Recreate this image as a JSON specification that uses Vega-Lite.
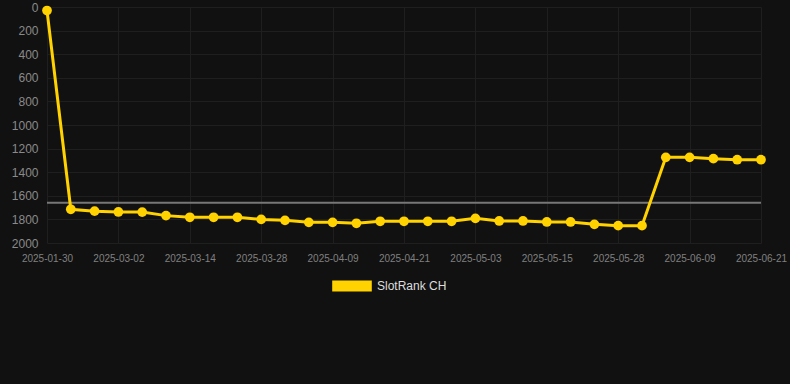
{
  "$schema": "https://vega.github.io/schema/vega-lite/v6.json",
  "width": 738,
  "height": 236,
  "autosize": "none",
  "padding": {"left": 47, "top": 7, "right": 5, "bottom": 141},
  "background": "#111111",
  "config": {
    "view": {"stroke": null},
    "axis": {"gridColor": "#1f1f1f", "domain": false, "ticks": false, "labelFont": "Liberation Sans", "labelOverlap": false},
    "axisY": {"labelOverlap": false, "labelColor": "#8a8a8a", "labelFontSize": 12, "labelPadding": 9},
    "legend": {"labelFont": "Liberation Sans"}
  },
  "data": {
    "values": [
      {"date": "2025-01-30", "rank": 30},
      {"date": "2025-02-19", "rank": 1714},
      {"date": "2025-02-25", "rank": 1730},
      {"date": "2025-03-02", "rank": 1737},
      {"date": "2025-03-06", "rank": 1738},
      {"date": "2025-03-10", "rank": 1768},
      {"date": "2025-03-14", "rank": 1782},
      {"date": "2025-03-19", "rank": 1782},
      {"date": "2025-03-23", "rank": 1782},
      {"date": "2025-03-28", "rank": 1800},
      {"date": "2025-04-01", "rank": 1808},
      {"date": "2025-04-05", "rank": 1825},
      {"date": "2025-04-09", "rank": 1825},
      {"date": "2025-04-13", "rank": 1833},
      {"date": "2025-04-17", "rank": 1816},
      {"date": "2025-04-21", "rank": 1816},
      {"date": "2025-04-25", "rank": 1816},
      {"date": "2025-04-29", "rank": 1816},
      {"date": "2025-05-03", "rank": 1791},
      {"date": "2025-05-07", "rank": 1813},
      {"date": "2025-05-11", "rank": 1813},
      {"date": "2025-05-15", "rank": 1822},
      {"date": "2025-05-19", "rank": 1822},
      {"date": "2025-05-24", "rank": 1842},
      {"date": "2025-05-28", "rank": 1853},
      {"date": "2025-06-01", "rank": 1853},
      {"date": "2025-06-05", "rank": 1274},
      {"date": "2025-06-09", "rank": 1274},
      {"date": "2025-06-13", "rank": 1285},
      {"date": "2025-06-17", "rank": 1294},
      {"date": "2025-06-21", "rank": 1294}
    ]
  },
  "encoding": {
    "x": {
      "field": "date",
      "type": "ordinal",
      "sort": null,
      "scale": {"type": "point", "range": [0, 714], "padding": 0},
      "axis": {
        "title": null,
        "labelAngle": 0,
        "labelColor": "#808080",
        "labelFontSize": 10,
        "labelPadding": 10,
        "labelOverlap": false,
        "values": ["2025-01-30", "2025-03-02", "2025-03-14", "2025-03-28", "2025-04-09", "2025-04-21", "2025-05-03", "2025-05-15", "2025-05-28", "2025-06-09", "2025-06-21"],
        "grid": true
      }
    }
  },
  "layer": [
    {
      "transform": [{"joinaggregate": [{"op": "mean", "field": "rank", "as": "avg"}]}],
      "mark": {"type": "line", "color": "#777777", "strokeWidth": 2},
      "encoding": {
        "y": {
          "field": "avg",
          "type": "quantitative",
          "scale": {"domain": [0, 2000], "reverse": true, "nice": false},
          "axis": {"title": null, "values": [0, 200, 400, 600, 800, 1000, 1200, 1400, 1600, 1800, 2000], "tickCount": 11, "format": "d", "labelOverlap": false, "grid": true}
        }
      }
    },
    {
      "mark": {"type": "line", "strokeWidth": 3, "color": "#ffd200"},
      "encoding": {
        "y": {
          "field": "rank",
          "type": "quantitative",
          "axis": {"title": null, "values": [0, 200, 400, 600, 800, 1000, 1200, 1400, 1600, 1800, 2000], "tickCount": 11, "format": "d", "labelOverlap": false, "grid": true}
        }
      }
    },
    {
      "mark": {"type": "point", "filled": true, "size": 95, "opacity": 1},
      "encoding": {
        "y": {
          "field": "rank",
          "type": "quantitative",
          "axis": {"title": null, "values": [0, 200, 400, 600, 800, 1000, 1200, 1400, 1600, 1800, 2000], "tickCount": 11, "format": "d", "labelOverlap": false, "grid": true}
        },
        "color": {
          "datum": "SlotRank CH",
          "scale": {"domain": ["SlotRank CH"], "range": ["#ffd200"]},
          "legend": {
            "title": null,
            "orient": "none",
            "legendX": 294,
            "legendY": 268,
            "symbolType": "M-1.8,-0.5H1.8V0.5H-1.8Z",
            "symbolSize": 484,
            "symbolStrokeWidth": 0,
            "symbolOpacity": 1,
            "labelOffset": 14,
            "labelColor": "#dddddd",
            "labelFontSize": 12
          }
        }
      }
    }
  ]
}
